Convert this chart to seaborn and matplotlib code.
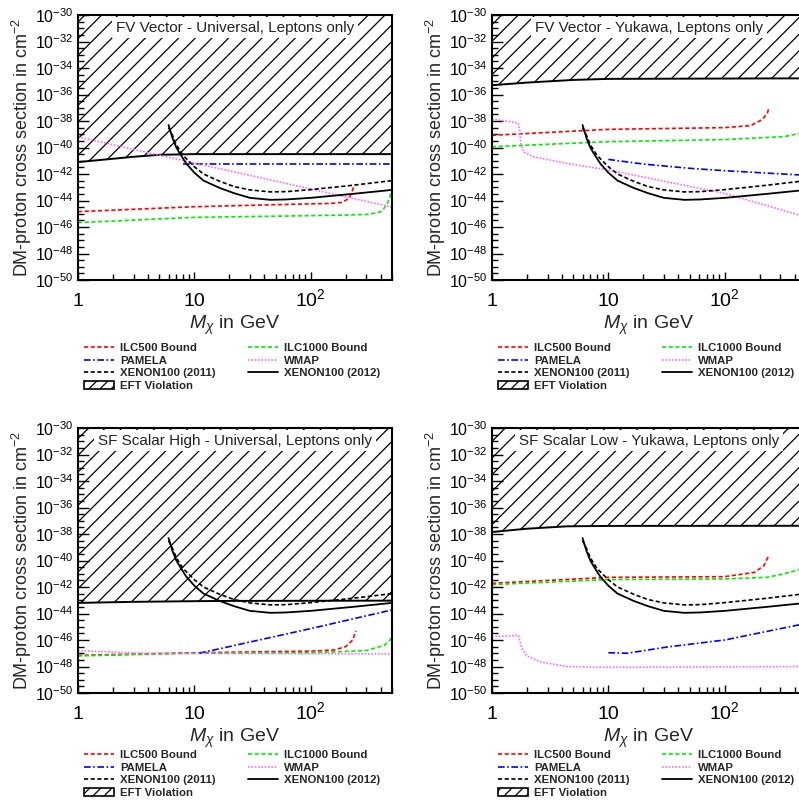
import numpy as np
import matplotlib
matplotlib.use("Agg")
import matplotlib.pyplot as plt
import seaborn as sns
from matplotlib.lines import Line2D
from matplotlib.patches import Patch
from matplotlib.ticker import FixedLocator, FixedFormatter, LogFormatterMathtext

# ---- data (log10 of cross section in cm^2) ----
xen12_m = [6.0, 6.5, 7.0, 7.5, 8.5, 10, 12, 16.5, 22, 30, 45, 62, 100, 230, 500]
xen12_y = [-38.3, -39.3, -40.0, -40.45, -41.2, -41.9, -42.5, -43.05, -43.45, -43.8, -43.95, -43.92, -43.8, -43.5, -43.2]
xen11_m = [6.0, 6.5, 7.0, 8, 10, 12, 16.5, 22, 30, 45, 62, 100, 230, 500]
xen11_y = [-38.5, -39.1, -39.8, -40.6, -41.45, -42.0, -42.55, -42.95, -43.2, -43.35, -43.33, -43.18, -42.85, -42.5]

titles = ["FV Vector - Universal, Leptons only", "FV Vector - Yukawa, Leptons only",
          "SF Scalar High - Universal, Leptons only", "SF Scalar Low - Yukawa, Leptons only"]

eft_m = [[1, 2, 3, 5, 10, 500], [1, 2, 5, 10, 500], [1, 3, 10, 20, 500], [1, 2, 4.4, 10, 500]]
eft_y = [[-41.1, -40.85, -40.7, -40.55, -40.5, -40.5],
         [-35.3, -35.1, -34.9, -34.82, -34.78],
         [-43.2, -43.12, -43.07, -43.05, -43.03],
         [-37.85, -37.6, -37.42, -37.39, -37.38]]

ilc500_m = [[1, 10, 65, 150, 187, 214, 227, 235],
            [1, 10, 100, 167, 210, 233, 238],
            [1, 10, 100, 160, 200, 230, 245],
            [1, 10, 100, 180, 217, 240]]
ilc500_y = [[-44.84, -44.47, -44.29, -44.22, -44.14, -43.83, -43.33, -42.9],
            [-39.08, -38.63, -38.5, -38.35, -37.9, -37.4, -37.12],
            [-47.16, -46.96, -46.84, -46.75, -46.5, -46.0, -45.3],
            [-41.72, -41.27, -41.22, -40.9, -40.4, -39.6]]

ilc1000_m = [[1, 10, 65, 200, 318, 400, 427, 460, 480, 490],
             [1, 10, 100, 324, 500],
             [1, 10, 100, 300, 430, 480, 500],
             [1, 10, 100, 232, 325, 500]]
ilc1000_y = [[-45.67, -45.27, -45.17, -45.1, -45.04, -44.85, -44.6, -44.15, -43.7, -43.4],
             [-39.94, -39.56, -39.4, -39.18, -38.85],
             [-47.2, -47.0, -46.96, -46.8, -46.4, -46.0, -45.8],
             [-41.82, -41.44, -41.39, -41.27, -41.0, -40.55]]

pamela_m = [[8, 20, 100, 500], [10, 20, 50, 100, 500], [11, 100, 500], [10, 14.5, 32, 100, 500]]
pamela_y = [[-41.25, -41.25, -41.25, -41.25],
            [-40.9, -41.25, -41.57, -41.75, -42.1],
            [-47.0, -45.14, -43.73],
            [-46.96, -47.0, -46.53, -46.0, -44.75]]

wmap_m = [[1, 10, 100, 500],
          [1, 1.68, 1.72, 1.77, 1.85, 2.26, 4.4, 10, 100, 500],
          [1, 3.4, 500],
          [1, 1.69, 1.8, 1.99, 2.6, 4.4, 10, 500]]
wmap_y = [[-39.2, -41.17, -43.13, -44.5],
          [-37.85, -38.15, -38.6, -39.7, -40.3, -40.7, -41.2, -41.7, -43.46, -45.25],
          [-46.8, -47.0, -47.05],
          [-45.75, -45.65, -46.6, -47.2, -47.65, -48.0, -48.06, -48.0]]

sns.set_theme(style="ticks")
plt.rcParams['font.family'] = ['Liberation Sans', 'DejaVu Sans']
plt.rcParams['mathtext.fontset'] = 'custom'
plt.rcParams['mathtext.rm'] = 'Liberation Sans'
plt.rcParams['mathtext.it'] = 'Liberation Sans:italic'
plt.rcParams['mathtext.bf'] = 'Liberation Sans:bold'
plt.rcParams['axes.unicode_minus'] = False
plt.rcParams['hatch.linewidth'] = 0.9

RED, GREEN, BLUE, MAG = '#ff0000', '#00ee00', '#0000ff', '#ff66ff'
ls_dash = (0, (2.5, 1.5))
ls_dashdot = (0, (4, 1.5, 1, 1.5))
ls_dot = (0, (1, 1))

fig = plt.figure(figsize=(7.99, 8.02), dpi=100)
W, H = 799, 802
boxes = [(78, 15), (492, 15), (78, 428), (492, 428)]  # left, top in px
legend_tops = [343, 343, 750, 750]

for i, (lx, ty) in enumerate(boxes):
    ax = fig.add_axes([lx / W, 1 - (ty + 265) / H, 314 / W, 265 / H])
    ax.set_xscale('log')
    ax.set_yscale('log')

    em = np.array(eft_m[i])
    ey = 10.0 ** np.array(eft_y[i])
    ax.fill_between(em, ey, 1e-30, facecolor='none', edgecolor='black', hatch='//', lw=0)
    sns.lineplot(x=em, y=ey, ax=ax, color='black', lw=1.4, estimator=None)

    sns.lineplot(x=ilc500_m[i], y=10.0 ** np.array(ilc500_y[i]), ax=ax, color=RED, lw=1.2,
                 linestyle=ls_dash, estimator=None)
    sns.lineplot(x=ilc1000_m[i], y=10.0 ** np.array(ilc1000_y[i]), ax=ax, color=GREEN, lw=1.2,
                 linestyle=ls_dash, estimator=None)
    sns.lineplot(x=pamela_m[i], y=10.0 ** np.array(pamela_y[i]), ax=ax, color=BLUE, lw=1.2,
                 linestyle=ls_dashdot, estimator=None)
    sns.lineplot(x=wmap_m[i], y=10.0 ** np.array(wmap_y[i]), ax=ax, color=MAG, lw=1.2,
                 linestyle=ls_dot, estimator=None)
    sns.lineplot(x=xen11_m, y=10.0 ** np.array(xen11_y), ax=ax, color='black', lw=1.2,
                 linestyle=ls_dash, estimator=None)
    sns.lineplot(x=xen12_m, y=10.0 ** np.array(xen12_y), ax=ax, color='black', lw=1.3,
                 estimator=None)

    ax.set_xlim(1, 500)
    ax.set_ylim(1e-50, 1e-30)

    ax.yaxis.set_major_locator(FixedLocator([10.0 ** e for e in range(-50, -29, 2)]))
    ax.yaxis.set_major_formatter(LogFormatterMathtext())
    ax.yaxis.set_minor_locator(FixedLocator([10.0 ** (e / 2) for e in range(-100, -59)]))
    ax.yaxis.set_minor_formatter(FixedFormatter([]))
    xmin = [k * 10 ** d for d in range(0, 3) for k in range(2, 10) if k * 10 ** d <= 500]
    ax.xaxis.set_major_locator(FixedLocator([1, 10, 100]))
    ax.xaxis.set_major_formatter(FixedFormatter(['1', '10', '$10^{2}$']))
    ax.xaxis.set_minor_locator(FixedLocator(xmin))
    ax.xaxis.set_minor_formatter(FixedFormatter([]))
    ax.tick_params(axis='both', which='both', direction='in', top=False, right=False, colors='black')
    ax.tick_params(axis='y', which='major', length=8, width=1, pad=3, labelsize=11.5)
    ax.tick_params(axis='y', which='minor', length=4, width=1)
    ax.tick_params(axis='x', which='major', length=6, width=1, pad=19, labelsize=14)
    ax.tick_params(axis='x', which='minor', length=4, width=1)
    for t in ax.xaxis.get_major_ticks():
        t.label1.set_verticalalignment('baseline')
    for s in ax.spines.values():
        s.set_linewidth(1.5)
        s.set_color('black')

    ax.set_ylabel('DM-proton cross section in cm$^{-2}$', fontsize=13)
    ax.yaxis.set_label_coords(-0.14, 0.5)
    ax.set_xlabel(r'$M_\chi$ in GeV', fontsize=14)
    ax.xaxis.set_label_coords(0.5, -0.128)

    ax.text(0.5, 0.951, titles[i], transform=ax.transAxes, ha='center', va='center',
            fontsize=11, color='#222222',
            bbox=dict(facecolor='white', edgecolor='none', pad=2.5))

    handles = [
        Line2D([], [], color=RED, lw=1.2, linestyle=ls_dash),
        Line2D([], [], color=BLUE, lw=1.2, linestyle=ls_dashdot),
        Line2D([], [], color='black', lw=1.2, linestyle=ls_dash),
        Patch(facecolor='white', edgecolor='black', hatch='///', lw=1.2),
        Line2D([], [], color=GREEN, lw=1.2, linestyle=ls_dash),
        Line2D([], [], color=MAG, lw=1.2, linestyle=ls_dot),
        Line2D([], [], color='black', lw=1.3),
    ]
    labels = ['ILC500 Bound', 'PAMELA', 'XENON100 (2011)', 'EFT Violation',
              'ILC1000 Bound', 'WMAP', 'XENON100 (2012)']
    fig.legend(handles, labels, loc='upper left', ncol=2,
               bbox_to_anchor=((lx + 6) / W, 1 - legend_tops[i] / H),
               frameon=False, borderpad=0, borderaxespad=0,
               prop={'weight': 'bold', 'size': 8.2},
               handlelength=2.6, handletextpad=0.6, columnspacing=2.8,
               labelspacing=0.22, handleheight=0.7)

fig.savefig('out.png', dpi=100)
